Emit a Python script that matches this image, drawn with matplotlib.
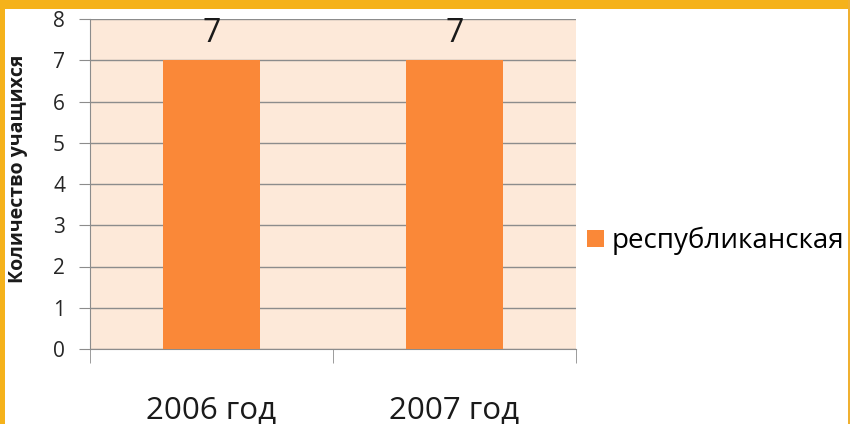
import matplotlib
matplotlib.use("Agg")
import matplotlib.pyplot as plt
from matplotlib.patches import Rectangle

plt.rcParams['font.family'] = ['Open Sans', 'DejaVu Sans']

# данные
categories = ['2006 год', '2007 год']
values = [7, 7]
series_name = 'республиканская'
y_label = 'Количество учащихся'

bar_color = '#FA8838'
plot_bg = '#FDE9D9'
grid_color = '#8C8C8C'

fig = plt.figure(figsize=(8.5, 4.24), dpi=100)
fig.patch.set_facecolor('white')

# жёлтая рамка слайда
fig.patches.append(Rectangle((0, 1 - 9 / 424), 1, 9 / 424, transform=fig.transFigure,
                             facecolor='#F5B21B', edgecolor='none', zorder=0))
fig.patches.append(Rectangle((0, 0), 5 / 850, 1, transform=fig.transFigure,
                             facecolor='#F5B21B', edgecolor='none', zorder=0))
fig.patches.append(Rectangle((1 - 2 / 850, 0), 2 / 850, 1, transform=fig.transFigure,
                             facecolor='#F0B030', edgecolor='none', zorder=0))

ax = fig.add_axes([90 / 850, 75 / 424, 486 / 850, 330 / 424])
ax.set_facecolor(plot_bg)

x = list(range(len(categories)))
bars = ax.bar(x, values, width=0.4, color=bar_color, label=series_name, zorder=3)

ax.set_xlim(-0.5, len(categories) - 0.5)
ax.set_ylim(0, 8)
ax.set_yticks(range(0, 9))
ax.yaxis.grid(True, color=grid_color, linewidth=1, zorder=1)
ax.tick_params(axis='y', length=8, color=grid_color, labelsize=15, pad=10, labelcolor='#262626')

# подписи категорий и деления между ними
ax.set_xticks(x)
ax.set_xticklabels(categories, fontsize=22.5, color='#1a1a1a')
ax.tick_params(axis='x', which='major', length=0, pad=33)
ax.set_xticks([-0.5 + i for i in range(len(categories) + 1)], minor=True)
ax.tick_params(axis='x', which='minor', length=10, color=grid_color)

for side in ['top', 'right']:
    ax.spines[side].set_visible(False)
ax.spines['left'].set_color(grid_color)
ax.spines['bottom'].set_color(grid_color)

for b, v in zip(bars, values):
    ax.text(b.get_x() + b.get_width() / 2, v + 0.44, str(v), ha='center', va='baseline',
            fontsize=23, color='#1a1a1a')

fig.text(18 / 850, 1 - 169 / 424, y_label, rotation=90, ha='center', va='center',
         fontsize=14, fontweight='bold', color='#1a1a1a')

leg = fig.legend(handles=[bars], labels=[series_name], loc='center left',
                 bbox_to_anchor=(587 / 850, 1 - 241 / 424), frameon=False,
                 borderpad=0, borderaxespad=0,
                 fontsize=20, handlelength=0.6, handleheight=0.6, handletextpad=0.3)

fig.savefig('out.png', dpi=100)
